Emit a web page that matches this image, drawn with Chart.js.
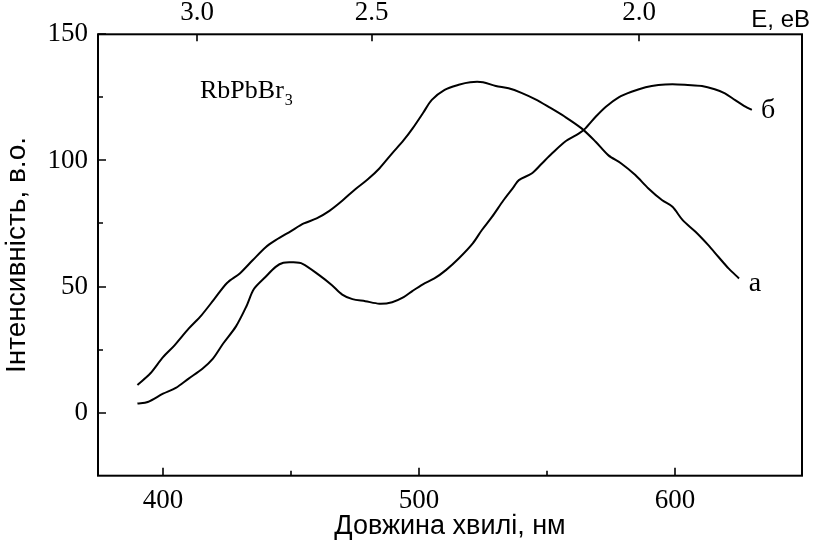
<!DOCTYPE html>
<html><head><meta charset="utf-8">
<script src="https://cdn.jsdelivr.net/npm/chart.js@4/dist/chart.umd.min.js"></script>
<style>html,body{margin:0;padding:0;background:#fff}</style>
</head><body>
<canvas id="c" width="813" height="544"></canvas>
<script>
// ---- data ----
const wavelengthA = [390,395,400,404.5,410,415,420,425,430,435,440,444,450,455,460,465,470,475,480,484.5,489.5,494,497.5,501.5,505,510,515.5,520,525,530,535,540,545.5,550.5,557,563.5,569,574,579,584.5,589.5,595,599,603,608,613,617,621,625];
const intensityA  = [11,15.5,22,26.7,33.3,38.6,45,51.4,55.2,60.4,65.5,68.4,72,75,77,80,84,88.5,92.5,96.8,102.8,108,112.7,118.7,124,128,130,131,131,129.5,128.6,126.8,124.2,121.3,117.3,112.7,107.4,102,98.8,94.2,89,84.2,81.6,76.3,71.7,66.4,61.7,57.1,53.2];
const wavelengthB = [390,394,400,405,410,415.5,419.5,423.5,428.5,432.5,435.5,440,444,447,450.5,454.5,461,466,470,474,479,484.5,489.5,494,497.5,501.5,506,510.5,515.5,521,524.5,528.5,533,537,539,544,548,552,557,562.5,565,569,573,578,583,588.5,593.5,599,605,610.5,615.5,619.5,623.5,627.5,630];
const intensityB  = [3.6,4.2,7.5,9.8,13.5,17.5,21.4,27.4,34.2,42,49,53.8,57.8,59.4,59.6,59,54.5,50.5,46.8,45,44.2,43.2,43.8,45.8,48.3,50.9,53.2,56.5,61.1,67.1,72.3,77.6,84.2,89.5,92.2,94.8,98.8,102.8,107.4,110.7,112.7,117.3,121.3,125,127.2,129,129.9,130.2,129.9,129.5,128.2,126.6,123.9,121.3,120];
const xTickValues = [400,500,600];
const xMinorTickValues = [450,550];
const yTickValues = [0,50,100,150];
const yMinorTickValues = [25,75,125];
const energyTickLabels = ['3.0','2.5','2.0'];
const energyTickWavelengths = [413.3,481.5,586];
const seriesLabels = ['а','б'];
const compoundName = 'RbPbBr';
const compoundSub = '3';
const xTitle = 'Довжина хвилі, нм';
const yTitle = 'Інтенсивність, в.о.';
const topTitle = 'E, еВ';

const X_MIN = 374.6, X_MAX = 649.6, Y_MIN = -25, Y_MAX = 150;
const serif = '"Liberation Serif", "Times New Roman", serif';
const sans = '"Liberation Sans", Arial, sans-serif';

const toXY = (xs, ys) => xs.map((x, i) => ({x, y: ys[i]}));

const framePlugin = {
  id: 'frame',
  afterDraw(chart) {
    const {ctx, chartArea: a, scales} = chart;
    ctx.save();
    ctx.strokeStyle = '#000';
    ctx.lineWidth = 2;
    ctx.strokeRect(a.left, a.top, a.right - a.left, a.bottom - a.top);
    ctx.lineWidth = 1.6;
    ctx.beginPath();
    const xs = scales.x, ys = scales.y, xt = scales.xTop;
    xTickValues.forEach(v => { const p = Math.round(xs.getPixelForValue(v)); ctx.moveTo(p, a.bottom); ctx.lineTo(p, a.bottom - 8); });
    xMinorTickValues.forEach(v => { const p = Math.round(xs.getPixelForValue(v)); ctx.moveTo(p, a.bottom); ctx.lineTo(p, a.bottom - 5); });
    yTickValues.forEach(v => { const p = Math.round(ys.getPixelForValue(v)); ctx.moveTo(a.left, p); ctx.lineTo(a.left + 8, p); });
    yMinorTickValues.forEach(v => { const p = Math.round(ys.getPixelForValue(v)); ctx.moveTo(a.left, p); ctx.lineTo(a.left + 5, p); });
    energyTickWavelengths.forEach(v => { const p = Math.round(xt.getPixelForValue(v)); ctx.moveTo(p, a.top); ctx.lineTo(p, a.top + 7); });
    ctx.stroke();

    ctx.fillStyle = '#000';
    ctx.textBaseline = 'alphabetic';
    ctx.textAlign = 'left';
    ctx.font = '26px ' + serif;
    ctx.fillText(compoundName, 200, 98);
    const w = ctx.measureText(compoundName).width;
    ctx.font = '16px ' + serif;
    ctx.fillText(compoundSub, 200 + w + 1, 105);

    ctx.font = '28px ' + serif;
    ctx.textAlign = 'center';
    ctx.textBaseline = 'middle';
    ctx.fillText(seriesLabels[1], 768, 111);
    ctx.fillText(seriesLabels[0], 755, 284);

    ctx.font = '24px ' + sans;
    ctx.textAlign = 'right';
    ctx.textBaseline = 'alphabetic';
    ctx.fillText(topTitle, 810, 27);
    ctx.restore();
  }
};

new Chart(document.getElementById('c'), {
  type: 'line',
  data: {
    datasets: [
      {label: seriesLabels[0], data: toXY(wavelengthA, intensityA), borderColor: '#000', borderWidth: 2, pointRadius: 0, tension: 0.3, fill: false},
      {label: seriesLabels[1], data: toXY(wavelengthB, intensityB), borderColor: '#000', borderWidth: 2, pointRadius: 0, tension: 0.3, fill: false}
    ]
  },
  options: {
    responsive: false,
    animation: false,
    devicePixelRatio: 1,
    layout: {padding: {left: 0, right: 11, top: 0, bottom: 0}},
    plugins: {legend: {display: false}, tooltip: {enabled: false}},
    scales: {
      x: {
        type: 'linear', position: 'bottom', min: X_MIN, max: X_MAX,
        afterBuildTicks: s => { s.ticks = xTickValues.map(v => ({value: v})); },
        afterFit: s => { s.height = 68.3; },
        grid: {display: false, drawTicks: false},
        border: {display: false},
        ticks: {color: '#000', font: {family: serif, size: 27}, padding: 9, maxRotation: 0, autoSkip: false},
        title: {display: true, text: xTitle, color: '#000', font: {family: sans, size: 27}, padding: {top: 0, bottom: 1}}
      },
      xTop: {
        type: 'linear', axis: 'x', position: 'top', min: X_MIN, max: X_MAX,
        afterBuildTicks: s => { s.ticks = energyTickWavelengths.map(v => ({value: v})); },
        afterFit: s => { s.height = 34.3; },
        grid: {display: false, drawTicks: false},
        border: {display: false},
        ticks: {color: '#000', font: {family: serif, size: 27}, padding: 5, maxRotation: 0, autoSkip: false,
          callback: (v, i) => energyTickLabels[i]}
      },
      y: {
        type: 'linear', position: 'left', min: Y_MIN, max: Y_MAX,
        afterBuildTicks: s => { s.ticks = yTickValues.map(v => ({value: v})); },
        afterFit: s => { s.width = 98; },
        grid: {display: false, drawTicks: false},
        border: {display: false},
        ticks: {color: '#000', font: {family: serif, size: 27}, padding: 10},
        title: {display: true, text: yTitle, color: '#000', font: {family: sans, size: 28}, padding: {top: 0, bottom: 2}}
      }
    }
  },
  plugins: [framePlugin]
});
</script>
</body></html>
